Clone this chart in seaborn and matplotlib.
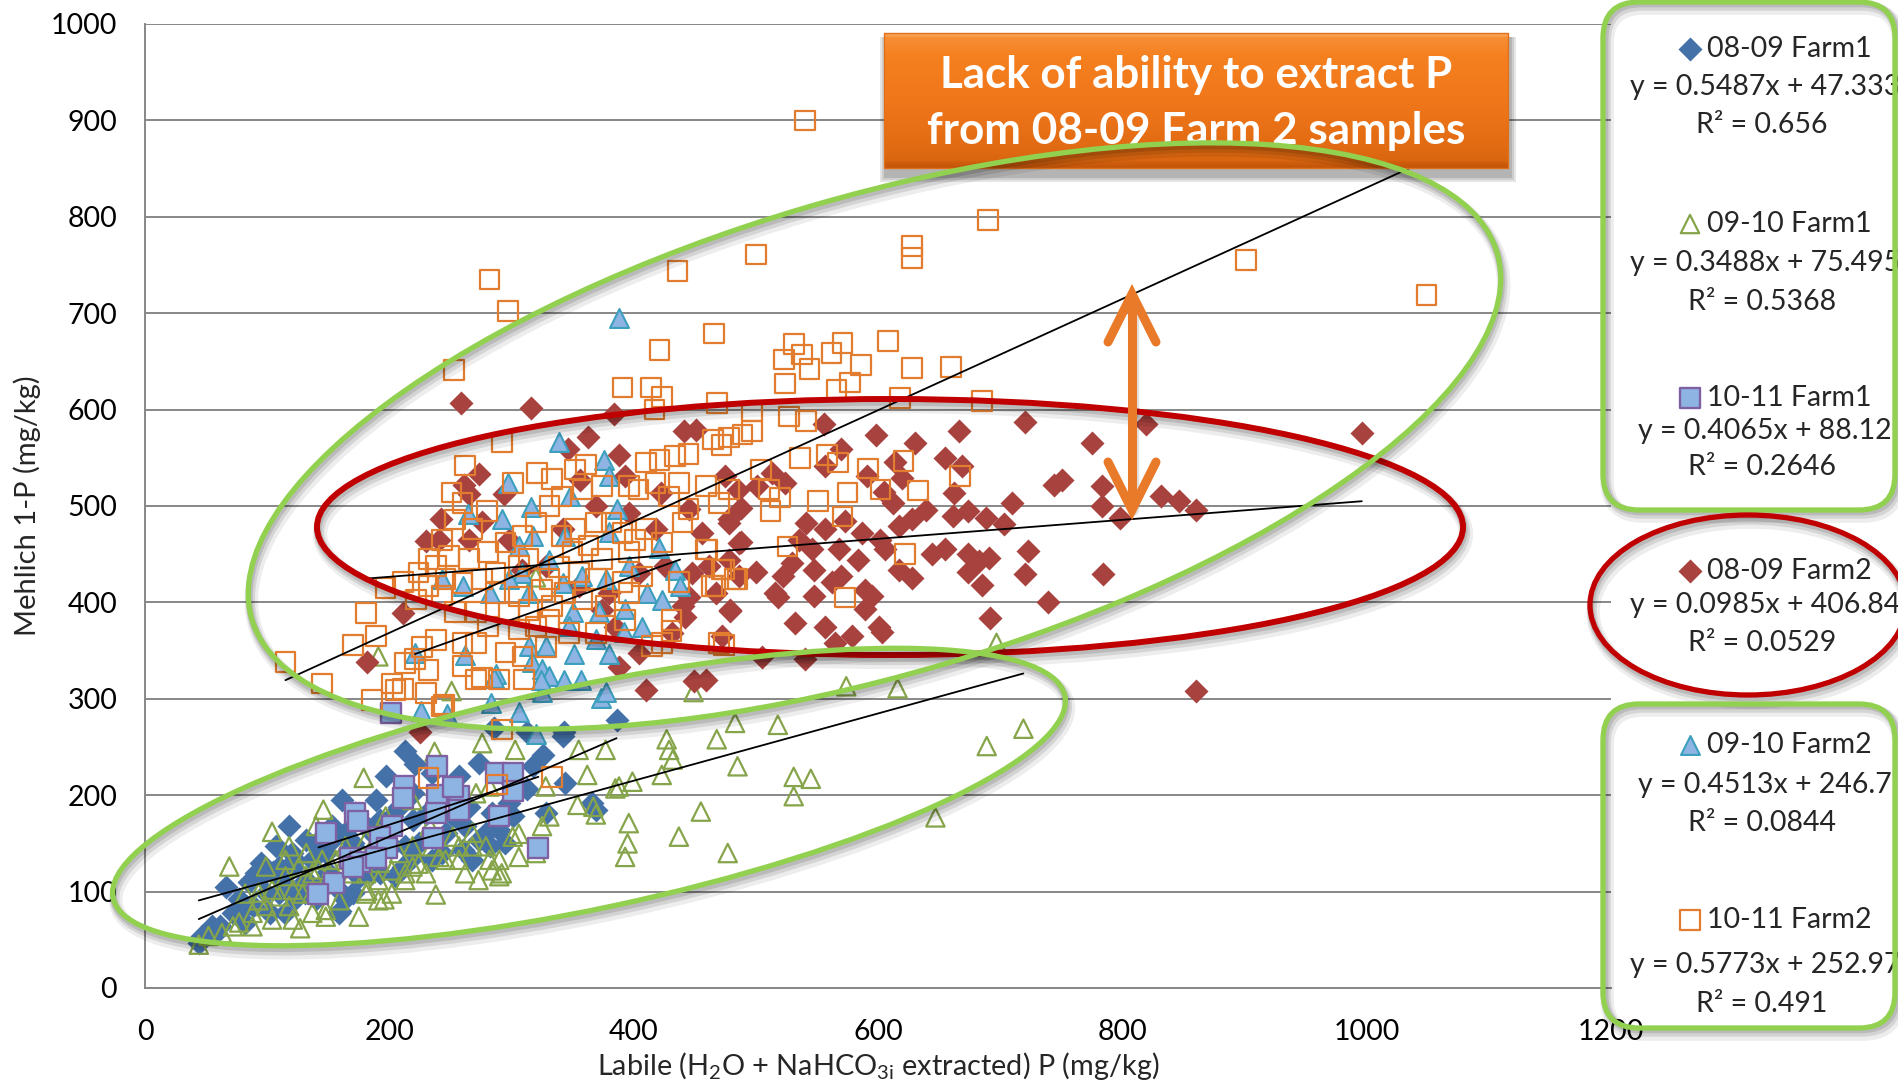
import numpy as np
import matplotlib
matplotlib.use("Agg")
import matplotlib.pyplot as plt
import seaborn as sns
from matplotlib.patches import Ellipse, FancyBboxPatch, Rectangle
from matplotlib.colors import LinearSegmentedColormap

sns.set_theme(style="white")
plt.rcParams["font.family"] = ["Lato", "DejaVu Sans"]
plt.rcParams["mathtext.fontset"] = "custom"
plt.rcParams["mathtext.rm"] = "Lato"
plt.rcParams["mathtext.it"] = "Lato:italic"
plt.rcParams["mathtext.bf"] = "Lato:bold"

# ---------------------------------------------------------------- data
# (labile P, Mehlich-1 P) pairs in mg/kg, one list per season and farm
farm1_0809 = [(386,278),(343,266),(313,266),(286,270),(326,242),(318,230),(273,233),(213,246),(221,232),(197,220),
              (189,195),(161,195),(172,182),(208,188),(241,199),(257,220),(265,188),(298,192),(313,206),(344,213),
              (366,192),(369,185),(328,182),(290,164),(273,154),(260,143),(295,150),(224,150),(211,126),(205,116),
              (192,119),(164,92),(159,78),(137,133),(132,154),(107,147),(118,168),(91,119),(66,105),(77,92),
              (83,85),(55,64),(47,54),(44,47),(58,57),(99,99),(115,109),(121,126),(148,140),(132,112),
              (142,99),(181,133),(186,161),(202,178),(219,202),(235,223),(252,178),(284,182),(298,216),(342,261),
              (282,147),(243,140),(197,154),(153,168),(120,140),(140,150),(170,150),(150,120),(175,115),(125,100),
              (105,120),(85,110),(95,130),
              (96,116),(110,126),(123,133),(142,147),(153,154),(164,161),(170,147),(181,168),(192,174),(219,174),
              (230,181),(246,161),(262,168),(268,133),(279,161),(301,178),(219,136),(235,133),(213,147),(202,147),
              (186,119),(175,119),(159,102),(170,99),(148,112),(140,92),(131,99),(123,92),(110,99),(115,78),
              (102,78),(88,85),(82,67),(72,78),(61,64),(160,80)]

farm1_0910 = [(427,258),(429,247),(432,237),(423,221),(399,214),(385,207),(377,247),(355,247),(362,221),(354,190),
              (369,180),(396,171),(395,150),(393,136),(437,157),(331,178),(325,168),(328,209),(303,247),(276,254),
              (251,308),(237,245),(179,218),(146,185),(104,162),(69,126),(127,62),(238,97),(262,119),(196,92),
              (182,101),(284,122),(292,119),(306,136),(320,140),(282,133),(301,157),(306,160),(268,147),(252,157),
              (241,136),(224,129),(213,119),(202,122),(271,202),(282,209),(252,209),(219,195),(197,178),(181,154),
              (164,147),(156,133),(142,123),(132,116),(121,102),(110,95),(99,85),(88,78),(77,68),(63,57),
              (52,54),(44,45),(137,99),(148,81),(118,85),(93,99),(99,126),(118,147),(132,140),(140,168),
              (115,133),(181,119),(192,130),(219,147),(233,168),(257,133),(273,112),(290,116),
              (468,258),(483,275),(518,273),(485,230),(531,219),(531,199),(455,183),(477,140),(388,209),(367,188),
              (697,358),(574,313),(616,311),(719,269),(689,251),(545,217),(647,177),(191,344),(320,426),(449,307),
              (82,98),(93,91),(104,102),(115,116),(126,126),(137,119),(145,133),(153,126),(164,133),(170,119),
              (175,133),(186,147),(197,147),(208,140),(219,126),(230,119),(235,147),(246,133),(257,147),(268,161),
              (279,147),(290,133),(104,71),(121,71),(137,78),(148,74),(72,64),(88,64),(129,98),(159,91),
              (181,98),(191,112),(202,98),(213,112),(175,74),(191,91)]

farm1_1011 = [(201,285),(239,230),(287,223),(301,223),(212,210),(211,197),(239,200),(257,199),(252,209),(301,204),
              (172,182),(174,173),(148,161),(257,185),(238,182),(290,178),(202,168),(236,156),(192,157),(198,145),
              (168,135),(176,131),(189,135),(322,145),(155,109),(142,98),(170,126)]

farm2_0809 = [(259,607),(316,602),(384,595),(363,572),(441,578),(451,579),(388,553),(346,559),(273,533),(261,522),
              (265,512),(294,512),(356,527),(393,531),(422,514),(475,531),(485,517),(478,486),(486,462),(456,472),
              (445,497),(418,476),(242,486),(230,464),(241,465),(265,465),(276,483),(298,465),(342,476),(369,500),
              (396,493),(426,438),(448,431),(462,438),(478,444),(486,427),(467,410),(445,406),(440,396),(479,392),
              (431,368),(442,385),(404,347),(388,333),(410,309),(449,318),(472,365),(182,338),(211,389),(385,375),
              (374,392),(328,438),(309,434),(355,417),(404,431),(380,410),(225,266),
              (556,585),(598,574),(630,565),(666,578),(720,587),(819,585),(775,565),(570,559),(557,541),(614,546),
              (655,550),(669,541),(662,514),(620,529),(591,531),(605,515),(513,534),(524,524),(501,521),(488,498),
              (478,482),(488,463),(500,432),(479,391),(518,406),(541,482),(557,476),(573,484),(587,472),(612,503),
              (628,486),(639,496),(617,479),(661,490),(674,495),(688,488),(703,481),(710,503),(744,522),(751,527),
              (783,521),(783,500),(798,488),(832,510),(846,505),(860,496),(723,453),(720,429),(784,429),(739,400),
              (692,384),(860,308),(535,465),(546,455),(568,455),(584,444),(602,465),(606,455),(617,434),(628,425),
              (644,450),(655,455),(674,450),(683,443),(691,446),(674,432),(685,418),(530,441),(522,427),(516,410),
              (548,434),(548,407),(562,421),(570,427),(589,413),(595,407),(589,393),(532,379),(557,374),(579,365),
              (601,374),(603,369),(565,358),(540,341),(505,343),(459,320),(996,576)]

farm2_0910 = [(339,566),(376,548),(297,524),(380,531),(386,497),(348,510),(264,492),(292,487),(316,499),(318,469),
              (306,459),(344,469),(380,473),(331,444),(309,431),(358,427),(342,420),(377,424),(396,438),(421,456),
              (434,434),(438,417),(411,410),(423,402),(393,393),(372,390),(350,390),(407,374),(392,369),(380,346),
              (351,346),(328,355),(314,355),(317,338),(325,331),(331,324),(343,319),(357,320),(325,307),(373,301),
              (287,326),(262,345),(226,287),(247,284),(283,296),(306,286),(243,424),(260,417),(282,410),(298,424),
              (314,410),(377,307),(347,376),(369,362),(388,695),(286,322),(324,320),(320,264),(221,348)]

farm2_1011 = [(540,900),(436,744),(500,761),(628,770),(628,757),(690,797),(901,755),(1049,719),(282,735),(297,702),
              (253,641),(421,662),(466,679),(391,623),(414,623),(423,613),(531,668),(538,657),(523,652),(544,642),
              (562,659),(571,669),(608,671),(586,646),(628,643),(660,644),(524,627),(566,621),(577,628),(618,612),
              (685,609),(468,607),(417,600),(497,598),(527,593),(541,588),
              (292,566),(262,542),(321,534),(301,524),(333,528),(352,538),(361,543),(410,545),(421,548),(434,552),
              (445,554),(465,569),(478,571),(489,574),(472,563),(251,514),(260,503),(280,495),(254,486),(268,476),
              (243,465),(232,445),(238,438),(249,448),(224,431),(211,421),(197,415),(181,389),(170,356),(189,365),
              (115,338),(145,316),(186,299),(202,316),(211,310),(230,306),(243,292),(232,330),(213,337),(227,354),
              (238,361),(260,358),(271,358),(276,322),(290,320),(310,320),(260,334),(221,341),(295,348),(306,372),
              (320,375),(328,354),(281,375),(298,389),(314,392),(333,396),(344,410),(325,413),(306,406),(287,410),
              (276,424),(260,420),(246,424),(265,445),(281,452),(295,462),(309,469),(320,483),(331,500),(341,510),
              (358,517),(374,521),(396,521),(404,517),(418,524),(437,524),(429,510),(445,497),(459,521),(478,517),
              (440,483),(410,476),(391,472),(369,483),(352,476),(363,459),(350,452),(374,445),(396,452),(401,465),
              (423,462),(459,455),(472,434),(483,424),(464,417),(437,421),(396,410),(369,424),(355,431),(339,437),
              (331,424),(358,403),(377,396),(393,382),(431,382),(423,358),(369,368),(347,368),(331,382),(309,344),
              (271,320),(232,417),(222,403),(243,407),(254,390),(271,390),(287,431),(306,438),(314,445),(341,469),
              (382,483),(407,427),(391,421),(470,358),(431,370),(415,355),
              (497,578),(536,550),(558,553),(567,545),(592,539),(621,547),(667,531),(504,538),(511,517),(520,509),
              (551,505),(575,514),(602,517),(633,516),(470,503),(512,495),(571,489),(526,458),(622,450),(460,455),
              (474,434),(485,424),(467,417),(573,405),(474,356),
              (288,211),(232,218),(333,219),(292,268),(245,294),(205,309)]

series_names = ["08-09 Farm1", "09-10 Farm1", "10-11 Farm1", "08-09 Farm2", "09-10 Farm2", "10-11 Farm2"]
series_points = [farm1_0809, farm1_0910, farm1_1011, farm2_0809, farm2_0910, farm2_1011]
trend_slopes = [0.5487, 0.3488, 0.4065, 0.0985, 0.4513, 0.5773]
trend_intercepts = [47.333, 75.495, 88.12, 406.84, 246.7, 252.97]
trend_r2 = ["0.656", "0.5368", "0.2646", "0.0529", "0.0844", "0.491"]
x_ticks = [0, 200, 400, 600, 800, 1000, 1200]
y_ticks = [0, 100, 200, 300, 400, 500, 600, 700, 800, 900, 1000]

# marker styles per series: marker, size, face, edge, edge width, hollow
styles = [
    dict(marker="D", s=150, face="#4471A8", edge="#4471A8", lw=0.0, hollow=False),
    dict(marker="^", s=175, face="none", edge="#86A44A", lw=1.6, hollow=True),
    dict(marker="s", s=205, face="#8EB4E3", edge="#7E61A3", lw=1.7, hollow=False),
    dict(marker="D", s=150, face="#A8423F", edge="#A8423F", lw=0.0, hollow=False),
    dict(marker="^", s=185, face="#8EB4E3", edge="#3B9FBD", lw=1.5, hollow=False),
    dict(marker="s", s=200, face="none", edge="#E27D2F", lw=1.6, hollow=True),
]

# ---------------------------------------------------------------- figure
W, H = 1899, 1089
fig = plt.figure(figsize=(W / 100, H / 100), dpi=100)
fig.patch.set_facecolor("white")
ax = fig.add_axes([145 / W, 1 - 988 / H, (1611 - 145) / W, (988 - 24) / H])
ax.set_facecolor("white")

for i, (pts, st) in enumerate(zip(series_points, styles)):
    xs = np.array([p[0] for p in pts], float)
    ys = np.array([p[1] for p in pts], float)
    sns.scatterplot(x=xs, y=ys, marker=st["marker"], s=st["s"],
                    color=st["edge"] if st["hollow"] else st["face"],
                    edgecolor=st["edge"], linewidth=st["lw"], ax=ax,
                    zorder=3 + i, legend=False)
    if st["hollow"]:
        ax.collections[-1].set_facecolor("none")

# linear trend lines over each series' x range
for pts, m, b in zip(series_points, trend_slopes, trend_intercepts):
    xs = [p[0] for p in pts]
    xx = np.array([min(xs), max(xs)], float)
    sns.lineplot(x=xx, y=m * xx + b, color="black", linewidth=1.3, ax=ax,
                 zorder=12, legend=False)

grid_c = "#878787"
ax.set_xlim(0, 1200)
ax.set_ylim(0, 1000)
ax.set_xticks(x_ticks)
ax.set_yticks(y_ticks)
ax.grid(axis="y", color=grid_c, linewidth=1.4)
ax.grid(axis="x", visible=False)
ax.set_axisbelow(True)
for side in ["top", "right"]:
    ax.spines[side].set_visible(False)
for side in ["left", "bottom"]:
    ax.spines[side].set_color(grid_c)
    ax.spines[side].set_linewidth(1.4)
ax.tick_params(axis="both", direction="out", length=7, width=1.4, color=grid_c,
               labelsize=20.5, labelcolor="black")
ax.tick_params(axis="x", pad=15.5)
ax.tick_params(axis="y", pad=13)
ax.set_xlabel(r"Labile (H$_2$O + NaHCO$_{3\mathrm{i}}$ extracted) P (mg/kg)", fontsize=20.8)
ax.set_ylabel("Mehlich 1-P (mg/kg)", fontsize=21)
ax.xaxis.set_label_coords(0.5, (988 - 1066) / 964)
ax.xaxis.label.set_va("center")
ax.yaxis.set_label_coords((27 - 145) / 1466, 0.5)
ax.yaxis.label.set_va("center")
ax.yaxis.label.set_ha("center")

# ---------------------------------------------------------------- overlay in pixel units
ov = fig.add_axes([0, 0, 1, 1], zorder=5)
ov.set_axis_off()
ov.patch.set_alpha(0)


def shadow_ellipse(cx, cy, w, h, ang, color, lw, z):
    for dx, dy, a, extra in [(3, 7, 0.07, 6), (2, 5, 0.10, 3), (1, 3, 0.12, 1)]:
        ov.add_patch(Ellipse((cx + dx, cy + dy), w, h, angle=ang, fill=False,
                             ec="black", lw=lw + extra, alpha=a, zorder=z))
    ov.add_patch(Ellipse((cx, cy), w, h, angle=ang, fill=False, ec=color,
                         lw=lw, zorder=z + 0.5))


def shadow_rbox(x0, y0, x1, y1, r, color, lw, z):
    for dx, dy, a, extra in [(4, 6, 0.07, 6), (3, 4, 0.10, 3), (2, 2, 0.12, 1)]:
        ov.add_patch(FancyBboxPatch((x0 + dx, y0 + dy), x1 - x0, y1 - y0,
                                    boxstyle=f"round,pad=0,rounding_size={r}",
                                    fill=False, ec="black", lw=lw + extra, alpha=a, zorder=z))
    ov.add_patch(FancyBboxPatch((x0, y0), x1 - x0, y1 - y0,
                                boxstyle=f"round,pad=0,rounding_size={r}",
                                fill=False, ec=color, lw=lw, zorder=z + 0.5))


# callout box
bx0, by0, bx1, by1 = 884, 33, 1508, 168
for k, a in enumerate([0.10, 0.10, 0.12]):
    g = 6 - 2 * k
    ov.add_patch(Rectangle((bx0 - g + 2, by0 + 4), bx1 - bx0 + 2 * g, by1 - by0 + g + 4,
                           fc="black", ec="none", alpha=a, zorder=6))
cmap_box = LinearSegmentedColormap.from_list("callout", ["#F9A45A", "#F5801F", "#F0761A", "#E06A12", "#C2550A"])
grad = np.concatenate([np.linspace(0, 0.04, 6), np.linspace(0.15, 0.8, 200), np.linspace(0.85, 1, 12)])[:, None]
ov.imshow(grad, extent=(bx0, bx1, by1, by0), cmap=cmap_box, aspect="auto",
          interpolation="bilinear", zorder=7)
ov.add_patch(Rectangle((bx0, by0), bx1 - bx0, by1 - by0, fill=False, ec="#E0701C", lw=1, zorder=7.2))
ov.text((bx0 + bx1) / 2, 75, "Lack of ability to extract P", color="white", fontsize=31.7,
        fontweight="bold", ha="center", va="center", zorder=8)
ov.text((bx0 + bx1) / 2, 131, "from 08-09 Farm 2 samples", color="white", fontsize=31.7,
        fontweight="bold", ha="center", va="center", zorder=8)

# highlighted groups
shadow_ellipse(890, 527, 1146, 256, 0.0, "#C00000", 4.3, 9)
shadow_ellipse(874.5, 436, 1298, 477, -16.4, "#92D050", 3.8, 10)
shadow_ellipse(589, 797, 973, 223, -12.0, "#92D050", 3.8, 10)

# double-headed arrow
arrow_c = "#E87A2A"
ax_x, top_y, bot_y = 1132, 294, 510
ov.plot([ax_x + 2, ax_x + 2], [top_y + 8, bot_y], color="black", alpha=0.12,
        lw=7.5, solid_capstyle="round", zorder=10.5)
ov.plot([ax_x, ax_x], [top_y + 4, bot_y - 4], color=arrow_c, lw=6.5, solid_capstyle="round", zorder=11)
ov.plot([ax_x - 24, ax_x, ax_x + 24], [top_y + 48, top_y, top_y + 48], color=arrow_c, lw=6.5,
        solid_capstyle="round", solid_joinstyle="miter", zorder=11)
ov.plot([ax_x - 24, ax_x, ax_x + 24], [bot_y - 48, bot_y, bot_y - 48], color=arrow_c, lw=6.5,
        solid_capstyle="round", solid_joinstyle="miter", zorder=11)

# legend panels
shadow_rbox(1603, 2, 1895, 510, 36, "#92D050", 3.8, 12)
shadow_ellipse(1748, 605, 316, 180, 0.0, "#C00000", 3.8, 12)
shadow_rbox(1603, 704, 1895, 1028, 36, "#92D050", 3.8, 12)

legend_rows = [(49, 87, 125), (224, 263, 302), (398, 431, 467),
               (571, 605, 643), (745, 785, 823), (920, 965, 1004)]
fs_leg = 20.5
for name, st, m, b, r2, (yl, ye, yr) in zip(series_names, styles, trend_slopes,
                                             trend_intercepts, trend_r2, legend_rows):
    ov.scatter([1690], [yl], marker=st["marker"], s=st["s"],
               facecolor=st["face"], edgecolor=st["edge"], linewidth=st["lw"], zorder=11.8)
    ov.text(1707, yl, name, fontsize=fs_leg, ha="left", va="center", zorder=11.8)
    ov.text(1765, ye, f"y = {m}x + {b}", fontsize=fs_leg, ha="center", va="center", zorder=11.8)
    ov.text(1762, yr, f"R\u00b2 = {r2}", fontsize=fs_leg, ha="center", va="center", zorder=11.8)

ov.set_xlim(0, W)
ov.set_ylim(H, 0)

fig.savefig("out.png", dpi=100, facecolor="white")
